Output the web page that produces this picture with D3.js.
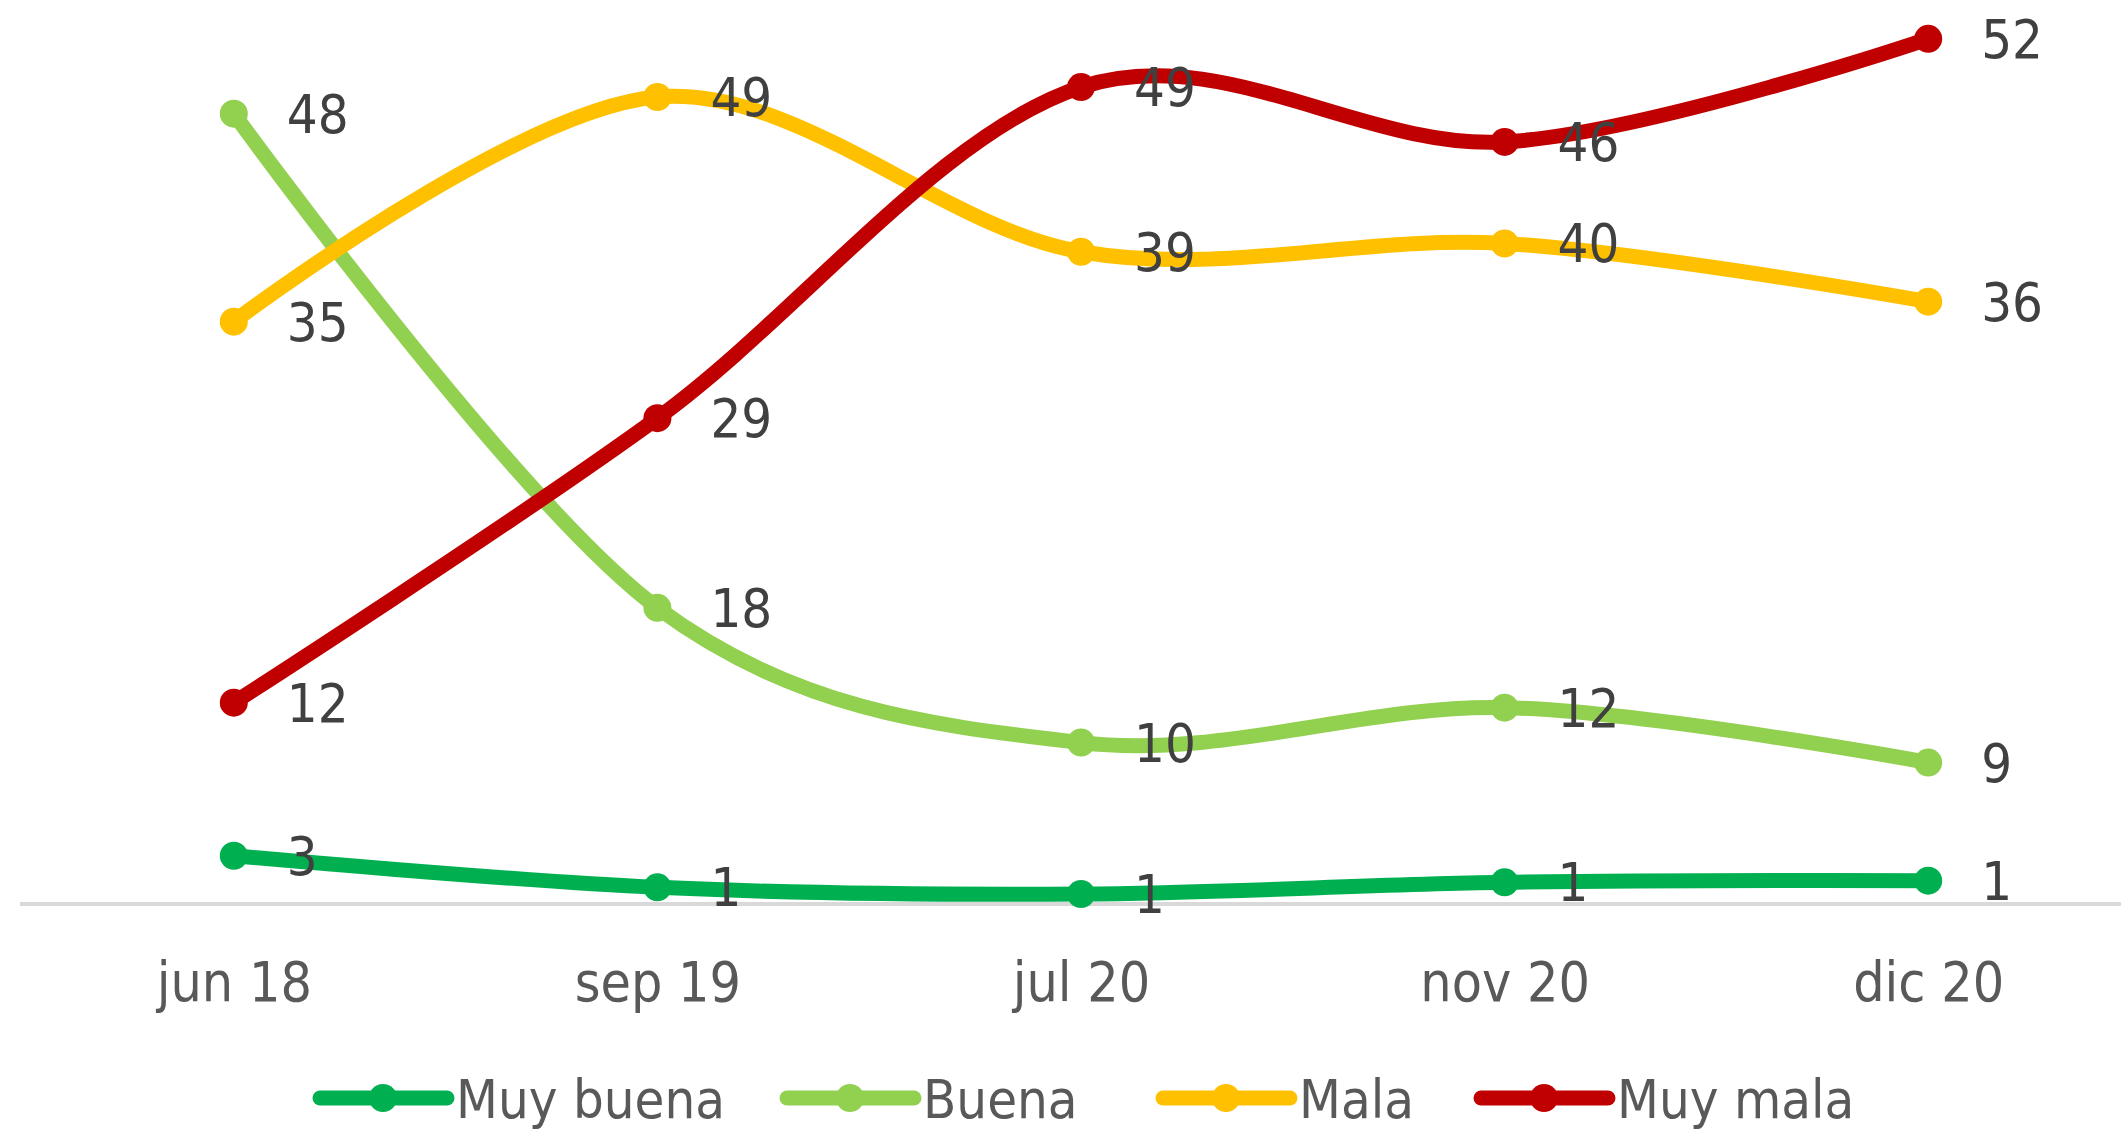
<!DOCTYPE html>
<html>
<head>
<meta charset="utf-8">
<script src="https://cdn.jsdelivr.net/npm/d3@7"></script>
<style>
  body { margin: 0; background: #fff; }
  text { font-family: "DejaVu Sans Condensed", "DejaVu Sans", sans-serif; }
</style>
</head>
<body>
<svg id="chart" width="2121" height="1135"></svg>
<script>
const categories = ["jun 18", "sep 19", "jul 20", "nov 20", "dic 20"];
const seriesNames = ["Muy buena", "Buena", "Mala", "Muy mala"];
const seriesColors = ["#00b050", "#92d050", "#ffc000", "#c00000"];
const muyBuena = [2.9, 1.0, 0.6, 1.3, 1.4];
const buena = [47.5, 17.8, 9.7, 11.8, 8.5];
const mala = [35.0, 48.5, 39.2, 39.7, 36.2];
const muyMala = [12.1, 29.2, 49.1, 45.8, 52.0];
const yDomain = [0, 54];

const seriesValues = [muyBuena, buena, mala, muyMala];

const width = 2121, height = 1135;
const svg = d3.select("#chart");

const x = d3.scalePoint().domain(categories).range([22, 2140]).padding(0.5);
const y = d3.scaleLinear().domain(yDomain).range([904, 5.5]);

// category axis
const xAxis = svg.append("g")
  .attr("transform", "translate(0," + y(0) + ")")
  .call(d3.axisBottom(x).tickSize(0).tickPadding(58));
xAxis.select(".domain")
  .attr("d", "M20,0H" + width)
  .attr("stroke", "#d9d9d9")
  .attr("stroke-width", 4);
xAxis.selectAll("text")
  .attr("fill", "#595959")
  .style("font-size", "55px")
  .style("font-family", "'DejaVu Sans Condensed', 'DejaVu Sans', sans-serif");

const line = d3.line()
  .x((d, i) => x(categories[i]))
  .y(d => y(d))
  .curve(d3.curveCardinal.tension(0));

seriesValues.forEach((vals, s) => {
  svg.append("path")
    .datum(vals)
    .attr("fill", "none")
    .attr("stroke", seriesColors[s])
    .attr("stroke-width", 15)
    .attr("stroke-linejoin", "round")
    .attr("stroke-linecap", "round")
    .attr("d", line);

  svg.append("g")
    .selectAll("circle")
    .data(vals)
    .join("circle")
    .attr("cx", (d, i) => x(categories[i]))
    .attr("cy", d => y(d))
    .attr("r", 14)
    .attr("fill", seriesColors[s]);
});

// data labels
seriesValues.forEach((vals, s) => {
  svg.append("g")
    .selectAll("text")
    .data(vals)
    .join("text")
    .attr("x", (d, i) => x(categories[i]) + 53)
    .attr("y", d => y(d) + 19)
    .attr("fill", "#404040")
    .style("font-size", "54px")
    .text(d => Math.round(d));
});

// legend (sample start x for each entry)
const legendX = [320, 787, 1163, 1481];
const legend = svg.append("g").attr("transform", "translate(0,1098)");
seriesNames.forEach((name, s) => {
  const lx = legendX[s];
  legend.append("line")
    .attr("x1", lx).attr("x2", lx + 127)
    .attr("y1", 0).attr("y2", 0)
    .attr("stroke", seriesColors[s])
    .attr("stroke-width", 15)
    .attr("stroke-linecap", "round");
  legend.append("circle")
    .attr("cx", lx + 63).attr("cy", 0).attr("r", 14)
    .attr("fill", seriesColors[s]);
  legend.append("text")
    .attr("x", lx + 136)
    .attr("y", 20)
    .attr("fill", "#595959")
    .style("font-size", "54px")
    .text(name);
});
</script>
</body>
</html>
